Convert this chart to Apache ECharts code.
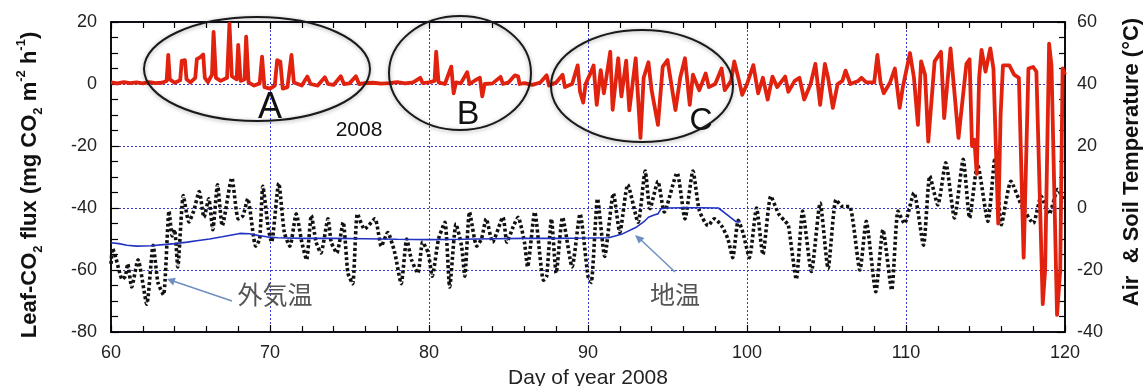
<!DOCTYPE html>
<html><head><meta charset="utf-8">
<script src="https://cdn.jsdelivr.net/npm/echarts/dist/echarts.min.js"></script>
<style>html,body{margin:0;padding:0;background:#fff}#c{width:1145px;height:386px}</style>
</head><body><div id="c"></div>
<script>
// ---- data ----
const dayRange = [60, 120];
const fluxRange = [-80, 20];
const tempRange = [-40, 60];

const fluxDay = [60.0,60.4,60.8,61.2,61.6,62.0,62.4,62.8,63.2,63.5,63.6,63.7,64.0,64.35,64.45,64.65,64.75,65.0,65.3,65.4,65.6,65.8,65.9,66.1,66.35,66.45,66.6,66.9,67.3,67.45,67.6,67.9,68.0,68.15,68.4,68.5,68.65,69.0,69.35,69.5,69.65,70.0,70.3,70.45,70.65,70.8,71.1,71.35,71.5,72.0,72.35,72.55,73.0,73.45,73.65,74.0,74.45,74.65,75.0,75.4,75.6,76.0,76.5,77.0,77.5,78.0,78.5,79.0,79.45,79.6,80.0,80.35,80.45,80.6,81.0,81.4,81.55,81.7,82.0,82.4,82.55,83.0,83.2,83.35,83.5,84.0,84.5,84.65,85.0,85.4,85.6,85.7,86.0,86.5,87.0,87.4,87.55,88.0,88.4,88.55,89.0,89.35,89.5,89.7,89.85,90.2,90.35,90.55,90.8,91.0,91.4,91.55,91.9,92.1,92.4,92.6,93.0,93.3,93.5,93.8,94.0,94.4,94.7,95.0,95.5,95.8,96.1,96.4,96.6,97.0,97.4,97.6,98.0,98.4,98.6,99.0,99.2,99.5,99.7,100.0,100.4,100.7,101.0,101.3,101.6,101.9,102.4,102.6,103.0,103.3,103.6,104.0,104.3,104.6,104.9,105.1,105.4,105.7,106.0,106.2,106.5,107.0,107.2,107.5,108.0,108.2,108.4,108.6,109.0,109.3,109.6,109.8,110.25,110.5,110.75,110.95,111.2,111.4,111.8,112.2,112.4,112.8,113.0,113.3,113.8,114.0,114.15,114.3,114.45,114.6,114.75,115.0,115.3,115.5,115.8,115.95,116.1,116.5,116.8,117.1,117.4,117.7,118.0,118.2,118.6,118.75,119.0,119.15,119.5,119.7,119.85,120.0];
const fluxValue = [0.5,0.2,0.6,0.3,0.5,0.2,0.6,0.3,0.4,1.0,9.4,1.5,0.4,1.2,7.5,7.7,1.5,0.5,2.0,8.0,8.6,9.5,2.0,0.6,3.0,16.8,2.0,1.0,2.0,19.5,2.5,1.5,12.6,1.0,1.5,15.3,0.5,-0.5,0.2,8.8,-1.0,-1.5,-0.5,7.7,7.2,-1.5,-1.0,9.4,0.5,-0.5,2.4,0.0,-0.5,2.2,0.0,-0.3,2.5,0.0,0.2,2.5,0.0,0.3,0.4,0.1,0.3,0.6,0.2,0.5,2.0,0.3,0.5,1.0,10.4,0.5,0.0,5.6,-3.0,0.5,0.2,3.8,0.0,1.5,2.0,-4.0,0.0,0.2,2.3,0.0,0.5,2.8,2.5,0.0,0.3,-0.3,0.5,2.8,-0.5,0.5,3.0,-1.0,0.0,6.0,-2.5,-6.0,0.0,4.0,6.0,-6.7,4.5,-3.0,10.4,-8.3,8.3,-4.0,7.5,-8.5,8.3,-17.4,2.0,7.0,-2.0,-13.2,5.6,7.7,-8.4,2.0,8.3,-6.7,3.0,-2.0,3.4,-1.0,0.0,5.0,-2.0,1.0,7.3,1.0,-3.5,0.0,6.1,-3.0,2.0,-5.0,2.4,-1.0,2.4,-2.5,1.0,2.0,-5.0,0.0,6.5,-6.7,6.5,2.0,-7.7,0.0,1.0,4.3,0.0,1.0,2.0,0.5,0.5,9.4,0.5,-3.0,0.5,5.0,-7.7,-1.0,10.0,2.0,-13.2,7.3,3.0,-18.6,7.3,10.4,-11.0,11.5,0.0,-17.4,6.5,8.0,-20.0,-18.0,-29.0,2.0,11.0,4.0,11.5,5.0,-45.0,-10.0,6.0,6.0,3.0,2.0,-56.0,5.0,5.5,4.0,-71.0,-60.0,13.0,6.0,-74.5,-60.0,5.0,3.0];

const airDay = [60.0,60.1,60.3,60.5,60.7,60.9,61.05,61.3,61.7,62.25,62.65,62.95,63.3,63.65,63.85,64.0,64.2,64.55,64.9,65.2,65.55,65.85,66.15,66.4,66.7,67.0,67.6,68.0,68.3,68.6,69.1,69.35,69.55,69.9,70.1,70.55,70.9,71.25,71.65,72.0,72.3,72.6,72.9,73.2,73.65,73.85,74.2,74.6,74.9,75.2,75.5,75.95,76.6,77.0,77.4,77.85,78.25,78.6,78.9,79.3,79.6,79.95,80.2,80.6,81.0,81.3,81.7,82.05,82.25,82.55,83.0,83.3,83.6,84.0,84.65,84.9,85.3,85.6,86.0,86.2,86.65,87.2,87.4,87.7,88.0,88.4,89.0,89.5,90.0,90.2,90.6,91.05,91.6,92.0,92.5,93.15,93.6,93.9,94.4,94.8,95.6,96.1,96.6,97.0,97.55,97.95,98.4,98.8,99.1,99.45,99.75,100.15,100.6,101.0,101.5,102.0,102.4,102.6,103.1,103.5,104.05,104.6,105.1,105.6,106.0,106.45,107.1,107.5,108.1,108.55,109.1,109.5,109.9,110.5,111.1,111.5,112.0,112.5,113.05,113.6,114.0,114.5,115.15,115.6,116.0,116.6,117.25,118.0,118.5,119.0,119.55,119.95];
const airTemp = [-18,-13,-16,-20,-23,-22,-18,-25.5,-16.7,-31,-12,-24,-28,-1,-9,-7,-19,4,-4.5,-1,5.3,-3,3,-7,7.5,-5.7,9.7,-3.5,-2.5,3,-12.3,-10,7,-6.8,-11,8,-7.9,-12.3,-1.9,-11,-16.7,-2.4,-11,-14.5,-3.5,-11,-14.5,-4.6,-21,-24.4,-1.9,-6.8,-3.5,-12.3,-7.9,-14.5,-24.4,-10,-16.7,-21,-11,-14.5,-22,-10,-4.6,-25.5,-5.2,-12.3,-22,-1.3,-12.3,-10,-3.5,-11,-3,-11,-6,-3,-11,-19,-1.3,-23.3,-22,-3.5,-21,-3,-19,-1.9,-22,-24,3,-15.6,4.7,-7.9,7.5,-4.6,11.9,-0.2,8.6,-1.3,11.3,-3.5,11.9,-0.8,-5.7,-3.5,-5.7,-10,-16,-4,-8,-16,0,-15,3.8,-2,-4.3,-5.5,-23,-1,-20.5,1.6,-19.5,2.7,0.5,0.5,-20,-4.3,-27,-7,-26.5,-1,-5,4.9,-12,10.3,1,14.6,-3.2,15.7,-3.2,14,-4.3,16.2,-5.4,8.6,1,-4.9,3.8,-2,6,2];

const soilDay = [60.0,60.5,61.0,61.6,62.5,63.3,64.0,64.8,65.5,66.2,67.0,67.6,68.1,68.7,69.3,69.8,70.5,72,74,76,78,80,82,84,86,88,90,91.3,92.1,93.0,93.5,93.8,94.2,94.4,94.6,95.0,96.0,97.0,98.2,98.8,99.3,99.6];
const soilTemp = [-11.2,-11.5,-12,-12.3,-12.2,-11.8,-11.5,-11,-10.5,-10,-9.3,-8.7,-8.2,-8.3,-8.9,-9.3,-9.6,-9.8,-9.8,-9.9,-10.1,-10.2,-10.1,-9.9,-9.8,-9.8,-9.7,-9.6,-8.5,-6.3,-4.5,-3,-2.2,-1.9,-0.2,0,0.1,0.1,0,-2.4,-4.4,-4.4];

// ---- chart ----
const FONT = '"Liberation Sans", Arial, Helvetica, sans-serif';
const zip = (a, b) => a.map((v, i) => [v, b[i]]);
const tickStyle = {color: '#000', width: 1.2};
const gridLine = {show: true, lineStyle: {color: '#3a3ad0', type: [2, 2], width: 1}};

const chart = echarts.init(document.getElementById('c'), null, {renderer: 'canvas'});
chart.setOption({
  animation: false,
  backgroundColor: '#fff',
  grid: {left: 111, right: 80, top: 22, bottom: 54, outerBoundsMode: 'none', containLabel: false,
         show: true, borderColor: '#000', borderWidth: 1.5, backgroundColor: 'transparent'},
  xAxis: [
    {type: 'value', min: dayRange[0], max: dayRange[1], interval: 10, position: 'bottom',
     axisLine: {show: true, onZero: false, lineStyle: {color: '#000', width: 1.5}},
     axisTick: {show: true, inside: true, length: 7, lineStyle: tickStyle},
     minorTick: {show: true, splitNumber: 5, length: 6, lineStyle: tickStyle},
     axisLabel: {color: '#222', fontSize: 18, fontFamily: FONT, margin: 12},
     splitLine: gridLine,
     name: 'Day of year 2008', nameLocation: 'middle', nameGap: 36,
     nameTextStyle: {color: '#222', fontSize: 21, fontFamily: FONT}},
    {type: 'value', min: dayRange[0], max: dayRange[1], interval: 10, position: 'top',
     axisLine: {show: true, onZero: false, lineStyle: {color: '#000', width: 1.5}},
     axisTick: {show: true, inside: true, length: 7, lineStyle: tickStyle},
     minorTick: {show: true, splitNumber: 5, length: 6, lineStyle: tickStyle},
     axisLabel: {show: false}, splitLine: {show: false}}
  ],
  yAxis: [
    {type: 'value', min: fluxRange[0], max: fluxRange[1], interval: 20, position: 'left',
     axisLine: {show: true, onZero: false, lineStyle: {color: '#000', width: 1.5}},
     axisTick: {show: true, inside: true, length: 8, lineStyle: tickStyle},
     minorTick: {show: true, splitNumber: 4, length: 7, lineStyle: tickStyle},
     axisLabel: {color: '#222', fontSize: 18, fontFamily: FONT, margin: 14},
     splitLine: gridLine,
     name: 'Leaf-CO{s|2} flux (mg CO{s|2} m{p|-2} h{p|-1})', nameLocation: 'middle', nameRotate: 90, nameGap: 66,
     nameTextStyle: {color: '#111', fontSize: 22, fontWeight: 'bold', fontFamily: FONT, lineHeight: 30, padding: [0, 16, 0, 0],
       rich: {s: {fontSize: 13, fontWeight: 'bold', fontFamily: FONT, color: '#111', verticalAlign: 'bottom', lineHeight: 15},
              p: {fontSize: 13, fontWeight: 'bold', fontFamily: FONT, color: '#111', verticalAlign: 'top', lineHeight: 15}}}},
    {type: 'value', min: tempRange[0], max: tempRange[1], interval: 20, position: 'right',
     axisLine: {show: true, onZero: false, lineStyle: {color: '#000', width: 1.5}},
     axisTick: {show: true, inside: true, length: 8, lineStyle: tickStyle},
     minorTick: {show: true, splitNumber: 4, length: 6, lineStyle: tickStyle},
     axisLabel: {color: '#222', fontSize: 18, fontFamily: FONT, margin: 12},
     splitLine: {show: false},
     name: 'Air  & Soil Temperature (°C)', nameLocation: 'middle', nameRotate: 90, nameGap: 56,
     nameTextStyle: {color: '#111', fontSize: 22, fontWeight: 'bold', fontFamily: FONT, padding: [0, 0, 0, 30]}}
  ],
  series: [
    {type: 'line', name: '外気温', xAxisIndex: 0, yAxisIndex: 1, data: zip(airDay, airTemp),
     symbol: 'none', smooth: 0.2, lineStyle: {color: '#111', width: 3.6, type: [3, 2.5]}, z: 2},
    {type: 'line', name: '地温', xAxisIndex: 0, yAxisIndex: 1, data: zip(soilDay, soilTemp),
     symbol: 'none', lineStyle: {color: '#2233c0', width: 1.6}, z: 3},
    {type: 'line', name: 'Leaf-CO2 flux', xAxisIndex: 0, yAxisIndex: 0, data: zip(fluxDay, fluxValue),
     symbol: 'none', lineStyle: {color: '#e0220f', width: 3.8, join: 'round'}, z: 4}
  ],
  graphic: [
    {type: 'ellipse', shape: {cx: 257, cy: 69, rx: 113, ry: 52}, z: 100,
     style: {fill: 'none', stroke: '#1a1a1a', lineWidth: 2, shadowBlur: 4, shadowColor: 'rgba(0,0,0,0.35)', shadowOffsetY: 1}},
    {type: 'ellipse', shape: {cx: 460, cy: 73, rx: 71, ry: 57}, z: 100,
     style: {fill: 'none', stroke: '#1a1a1a', lineWidth: 2, shadowBlur: 4, shadowColor: 'rgba(0,0,0,0.35)', shadowOffsetY: 1}},
    {type: 'ellipse', shape: {cx: 642, cy: 86, rx: 91, ry: 56}, z: 100,
     style: {fill: 'none', stroke: '#1a1a1a', lineWidth: 2, shadowBlur: 4, shadowColor: 'rgba(0,0,0,0.35)', shadowOffsetY: 1}},
    {type: 'text', x: 270, y: 108, z: 101, style: {text: 'A', font: '36px ' + FONT, fill: '#111', align: 'center', verticalAlign: 'middle'}},
    {type: 'text', x: 468, y: 115, z: 101, style: {text: 'B', font: '34px ' + FONT, fill: '#111', align: 'center', verticalAlign: 'middle'}},
    {type: 'text', x: 701, y: 121, z: 101, style: {text: 'C', font: '32px ' + FONT, fill: '#111', align: 'center', verticalAlign: 'middle'}},
    {type: 'text', x: 359, y: 130, z: 101, style: {text: '2008', font: '21px ' + FONT, fill: '#111', align: 'center', verticalAlign: 'middle'}},
    {type: 'text', x: 275, y: 294, z: 101, style: {text: '外気温', font: '25px "Noto Sans CJK JP"', fill: '#555', align: 'center', verticalAlign: 'middle'}},
    {type: 'text', x: 675, y: 294, z: 101, style: {text: '地温', font: '25px "Noto Sans CJK JP"', fill: '#555', align: 'center', verticalAlign: 'middle'}},
    {type: 'line', z: 101, shape: {x1: 232, y1: 301, x2: 173, y2: 281}, style: {stroke: '#6f8fc0', lineWidth: 1.5}},
    {type: 'polygon', z: 101, shape: {points: [[167, 279], [175.8, 277.8], [173.2, 285.4]]}, style: {fill: '#6f8fc0'}},
    {type: 'line', z: 101, shape: {x1: 675, y1: 272, x2: 640, y2: 239}, style: {stroke: '#6f8fc0', lineWidth: 1.5}},
    {type: 'polygon', z: 101, shape: {points: [[635, 235], [644.5, 237.9], [638.7, 243.5]]}, style: {fill: '#6f8fc0'}}
  ]
});
</script>
</body></html>
